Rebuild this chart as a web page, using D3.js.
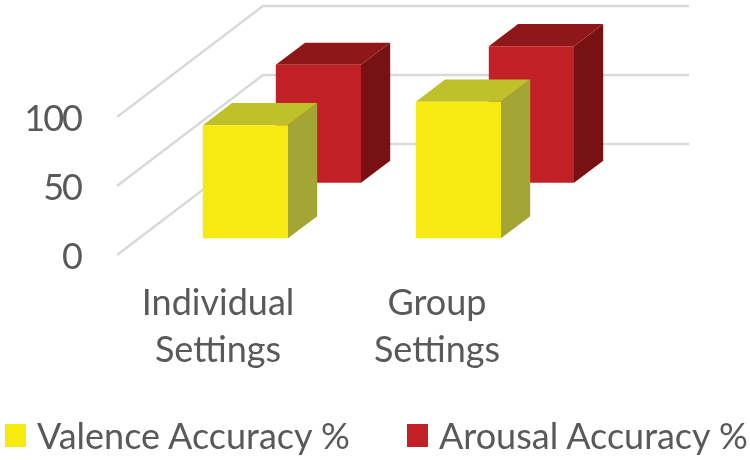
<!DOCTYPE html>
<html>
<head>
<meta charset="utf-8">
<script src="https://cdn.jsdelivr.net/npm/d3@7"></script>
<style>
  html, body { margin: 0; padding: 0; background: #fff; }
  svg { display: block; filter: blur(0.5px); }
  text { font-family: Lato, "Open Sans", sans-serif; fill: #595959; }
</style>
</head>
<body>
<div id="chart"></div>
<script>
const categories = ['Individual Settings', 'Group Settings'];
const seriesNames = ['Valence Accuracy %', 'Arousal Accuracy %'];
const valence = [82, 99];
const arousal = [85.5, 99];
const yTicks = [0, 50, 100];

const width = 750, height = 460;
const yellow = { front: '#f7ea10', top: '#bfc02a', side: '#a3a535' };
const red = { front: '#c02026', top: '#8e1819', side: '#781212' };
const colors = [yellow, red];

const svg = d3.select('#chart').append('svg')
  .attr('width', width)
  .attr('height', height);

// x runs along the front edge of the floor
const xScale = d3.scaleBand()
  .domain(categories)
  .range([117, 543])
  .paddingInner(0.6)
  .paddingOuter(0.3);

// height at the front edge
const yScale = d3.scaleLinear()
  .domain([0, 100])
  .range([255, 117]);

// depth goes from the front edge (0) to the back wall (1)
const depthX = d3.scaleLinear().domain([0, 1]).range([0, 146]);
const depthY = d3.scaleLinear().domain([0, 1]).range([0, -111]);
const zScale = d3.scaleBand()
  .domain(seriesNames)
  .range([0, 1])
  .paddingInner(0.6)
  .paddingOuter(0.3);

function project(x, value, depth) {
  return [x + depthX(depth), yScale(value) + depthY(depth)];
}

// gridlines: diagonal on the side wall, flat on the back wall
const grid = svg.append('g');
const line = d3.line();
const xRange = xScale.range();
grid.selectAll('path')
  .data(yTicks)
  .enter()
  .append('path')
  .attr('d', d => line([
    project(xRange[0], d, 0),
    project(xRange[0], d, 1),
    project(xRange[1], d, 1)
  ]))
  .attr('fill', 'none')
  .attr('stroke', '#d9d9d9')
  .attr('stroke-width', 2.5);

const yAxis = d3.axisLeft(yScale)
  .tickValues(yTicks)
  .tickSize(0)
  .tickPadding(36);

svg.append('g')
  .attr('transform', `translate(${xRange[0]},0)`)
  .call(yAxis)
  .call(g => g.select('.domain').remove())
  .selectAll('text')
  .attr('dy', '0.38em')
  .style('font-size', '36px')
  .style('letter-spacing', '-2px');

// back series first so the front one covers it
const bars = [];
[arousal, valence].forEach((values, k) => {
  const name = k === 0 ? seriesNames[1] : seriesNames[0];
  const color = k === 0 ? red : yellow;
  categories.forEach((c, i) => bars.push({ c, name, color, value: values[i] }));
});

const barG = svg.selectAll('.bar')
  .data(bars)
  .enter()
  .append('g')
  .classed('bar', true);

function faces(d) {
  const x0 = xScale(d.c), x1 = x0 + xScale.bandwidth();
  const z0 = zScale(d.name), z1 = z0 + zScale.bandwidth();
  return {
    front: [project(x0, 0, z0), project(x1, 0, z0), project(x1, d.value, z0), project(x0, d.value, z0)],
    top: [project(x0, d.value, z0), project(x1, d.value, z0), project(x1, d.value, z1), project(x0, d.value, z1)],
    side: [project(x1, 0, z0), project(x1, 0, z1), project(x1, d.value, z1), project(x1, d.value, z0)]
  };
}

['side', 'top', 'front'].forEach(face => {
  barG.append('polygon')
    .attr('points', d => faces(d)[face].join(' '))
    .attr('fill', d => d.color[face]);
});

// category labels, two lines each
const labelCenters = [218, 437];
const labelWords = categories.map(c => c.split(' '));
labelWords.forEach((words, i) => {
  const label = svg.append('text')
    .attr('text-anchor', 'middle')
    .style('font-size', '36px');
  words.forEach((w, j) => {
    label.append('tspan')
      .attr('x', labelCenters[i])
      .attr('y', 315 + j * 47)
      .text(w);
  });
});

// legend
const legendX = [5, 407];
const legend = svg.selectAll('.legend')
  .data(seriesNames)
  .enter()
  .append('g')
  .classed('legend', true)
  .attr('transform', (d, i) => `translate(${legendX[i]},424)`);

legend.append('rect')
  .attr('width', 21)
  .attr('height', 23)
  .attr('fill', (d, i) => colors[i].front);

legend.append('text')
  .attr('x', 32)
  .attr('y', 25)
  .style('font-size', '36px')
  .text(d => d);
</script>
</body>
</html>
